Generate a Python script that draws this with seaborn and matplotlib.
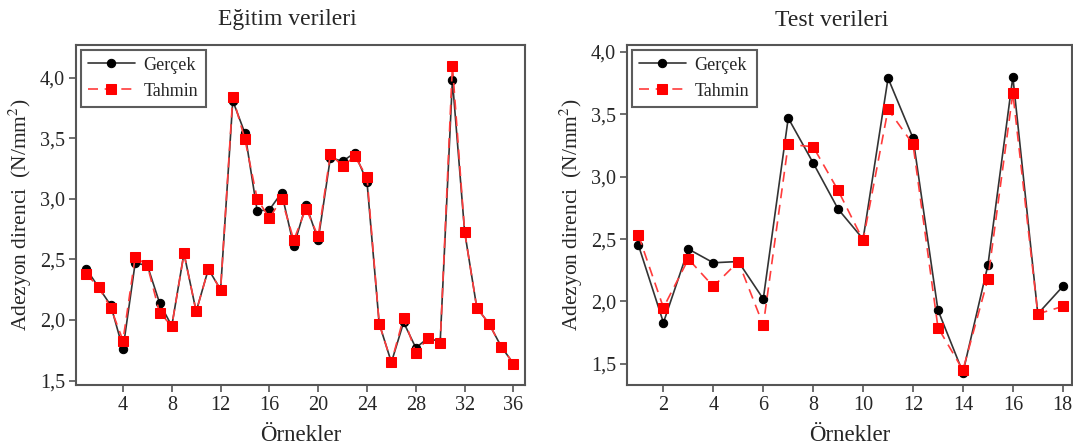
import matplotlib
matplotlib.use("Agg")
import matplotlib.pyplot as plt
import matplotlib.ticker as mticker
import seaborn as sns
import pandas as pd

# training data (Eğitim verileri), 36 samples
egitim_ornek = list(range(1, 37))
egitim_gercek = [2.42, 2.27, 2.12, 1.76, 2.47, 2.45, 2.14, 1.95, 2.55, 2.07,
                 2.42, 2.25, 3.81, 3.54, 2.90, 2.91, 3.05, 2.61, 2.95, 2.66,
                 3.34, 3.31, 3.38, 3.14, 1.97, 1.65, 1.98, 1.77, 1.85, 1.82,
                 3.98, 2.73, 2.10, 1.97, 1.78, 1.64]
egitim_tahmin = [2.38, 2.27, 2.10, 1.83, 2.52, 2.45, 2.06, 1.95, 2.55, 2.07,
                 2.42, 2.25, 3.84, 3.49, 3.00, 2.84, 3.00, 2.66, 2.92, 2.69,
                 3.37, 3.27, 3.35, 3.18, 1.97, 1.65, 2.02, 1.73, 1.85, 1.81,
                 4.10, 2.73, 2.10, 1.97, 1.78, 1.64]

# test data (Test verileri), 18 samples
test_ornek = list(range(1, 19))
test_gercek = [2.45, 1.83, 2.42, 2.31, 2.32, 2.02, 3.47, 3.11, 2.74, 2.50,
               3.79, 3.31, 1.93, 1.43, 2.29, 3.80, 1.90, 2.12]
test_tahmin = [2.53, 1.95, 2.34, 2.12, 2.32, 1.81, 3.26, 3.24, 2.89, 2.49,
               3.54, 3.26, 1.79, 1.45, 2.18, 3.67, 1.90, 1.96]

sns.set_style("ticks")
plt.rcParams['font.family'] = ['Liberation Serif', 'DejaVu Serif']
plt.rcParams['mathtext.fontset'] = 'stix'

fig = plt.figure(figsize=(10.73, 4.48), dpi=100)
W, H = 1073, 448
ax1 = fig.add_axes([76 / W, (H - 385) / H, 449 / W, 340 / H])
ax2 = fig.add_axes([627 / W, (H - 385) / H, 445 / W, 340 / H])

comma = mticker.FuncFormatter(lambda v, p: f"{v:.1f}".replace(".", ","))


def panel(ax, x, gercek, tahmin, title, title_x, xticks, xlim, ylim):
    df = pd.DataFrame({"x": x, "Gerçek": gercek, "Tahmin": tahmin})
    sns.lineplot(data=df, x="x", y="Gerçek", ax=ax, color="#333333",
                 linewidth=1.2, marker="o", markersize=6,
                 markerfacecolor="black", markeredgecolor="black",
                 label="Gerçek")
    sns.lineplot(data=df, x="x", y="Tahmin", ax=ax, color="#ff3b3b",
                 linewidth=1.2, linestyle=(0, (6, 4)), marker="s",
                 markersize=6.5, markerfacecolor="#ff0000",
                 markeredgecolor="#ff0000", label="Tahmin")
    ax.set_xlim(*xlim)
    ax.set_ylim(*ylim)
    ax.set_xticks(xticks)
    ax.set_yticks([1.5, 2.0, 2.5, 3.0, 3.5, 4.0])
    ax.yaxis.set_major_formatter(comma)
    ax.tick_params(direction="out", length=5, width=1.2, color="#555555",
                   labelsize=14.5, pad=3)
    for s in ax.spines.values():
        s.set_color("#555555")
        s.set_linewidth(1.5)
    ax.set_xlabel("Örnekler", fontsize=16.5, labelpad=7)
    ax.set_ylabel("Adezyon direnci  (N/mm$^2$)", fontsize=15.5, labelpad=4)
    leg = ax.legend(loc="upper left", fontsize=13, frameon=True, fancybox=False,
                    handlelength=2.6, borderaxespad=0.25, borderpad=0.4,
                    labelspacing=0.5, handletextpad=0.5)
    leg.get_frame().set_edgecolor("#333333")
    leg.get_frame().set_linewidth(1.5)
    fig.text(title_x / W, 1 - 20 / H, title, fontsize=17, ha="center",
             va="center")


panel(ax1, egitim_ornek, egitim_gercek, egitim_tahmin, "Eğitim verileri", 287,
      list(range(4, 37, 4)), (0.15, 36.95), (1.463, 4.27))
panel(ax2, test_ornek, test_gercek, test_tahmin, "Test verileri", 832,
      list(range(2, 19, 2)), (0.54, 18.37), (1.33, 4.056))

fig.savefig("out.png", dpi=100)
